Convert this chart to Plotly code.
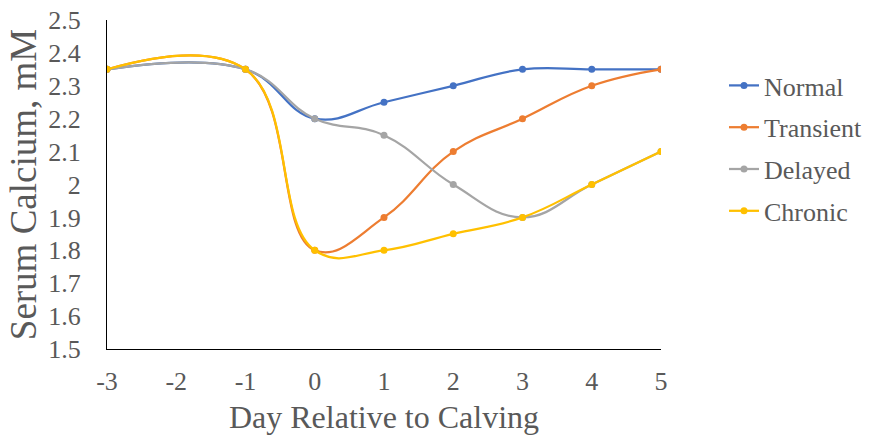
import plotly.graph_objects as go

# Serum calcium by day relative to calving
days = [-3, -1, 0, 1, 2, 3, 4, 5]
normal = [2.35, 2.35, 2.20, 2.25, 2.30, 2.35, 2.35, 2.35]
transient = [2.35, 2.35, 1.80, 1.90, 2.10, 2.20, 2.30, 2.35]
delayed = [2.35, 2.35, 2.20, 2.15, 2.00, 1.90, 2.00, 2.10]
chronic = [2.35, 2.35, 1.80, 1.80, 1.85, 1.90, 2.00, 2.10]

series = [
    ("Normal", normal, "#4472C4"),
    ("Transient", transient, "#ED7D31"),
    ("Delayed", delayed, "#A5A5A5"),
    ("Chronic", chronic, "#FFC000"),
]

x_ticks = [-3, -2, -1, 0, 1, 2, 3, 4, 5]
y_ticks = [1.5, 1.6, 1.7, 1.8, 1.9, 2.0, 2.1, 2.2, 2.3, 2.4, 2.5]
y_labels = ["1.5", "1.6", "1.7", "1.8", "1.9", "2", "2.1", "2.2", "2.3", "2.4", "2.5"]

font_family = "'Liberation Serif', 'Times New Roman', serif"
text_color = "#595959"

fig = go.Figure()
for name, vals, color in series:
    fig.add_trace(go.Scatter(
        x=days, y=vals, name=name, mode="lines+markers",
        line=dict(color=color, width=2.25, shape="spline", smoothing=1.2),
        marker=dict(color=color, size=7),
        legendgroup=name,
    ))

fig.update_layout(
    width=878, height=436,
    margin=dict(l=107, r=217, t=20, b=87, autoexpand=False),
    paper_bgcolor="white", plot_bgcolor="white",
    font=dict(family=font_family, color=text_color, size=26),
    showlegend=True,
    legend=dict(
        xref="container", yref="container",
        x=724 / 878, xanchor="left", y=1 - 62 / 436, yanchor="top",
        font=dict(size=26, family=font_family, color=text_color),
        tracegroupgap=5, itemwidth=30,
        bgcolor="rgba(0,0,0,0)",
    ),
)
# invisible tick marks are used only to push labels away from the axis lines
fig.update_xaxes(
    range=[-3, 5], tickvals=x_ticks, ticktext=[str(t) for t in x_ticks],
    showgrid=False, zeroline=False, showline=True, linecolor="black", linewidth=1.3,
    ticks="outside", ticklen=9, tickcolor="rgba(0,0,0,0)",
    tickfont=dict(size=26, family=font_family, color=text_color),
    automargin=False,
    title=dict(text="Day Relative to Calving",
               font=dict(size=32, family=font_family, color=text_color), standoff=10),
)
fig.update_yaxes(
    range=[1.5, 2.5], tickvals=y_ticks, ticktext=y_labels,
    showgrid=False, zeroline=False, showline=True, linecolor="black", linewidth=1.3,
    ticks="outside", ticklen=20, tickcolor="rgba(0,0,0,0)",
    tickfont=dict(size=26, family=font_family, color=text_color),
    automargin=False,
    title=dict(text="Serum Calcium, mM",
               font=dict(size=37, family=font_family, color=text_color), standoff=0),
)

fig.write_html("out.html")
